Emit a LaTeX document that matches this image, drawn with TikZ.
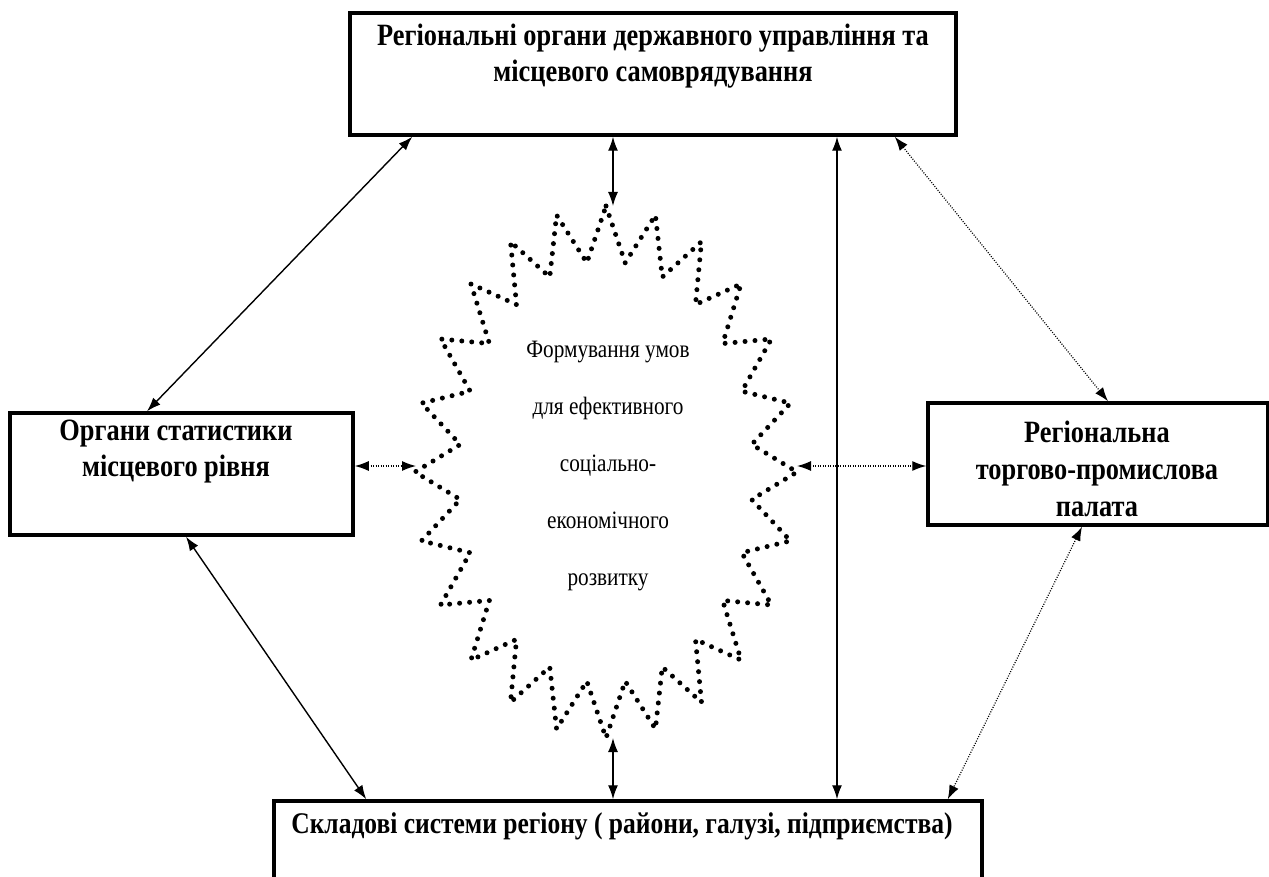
\documentclass[tikz,border=0pt]{standalone}
\usepackage{fontspec}
\setmainfont{Liberation Serif}[FakeStretch=0.85]
\usetikzlibrary{arrows.meta}

\tikzset{
  box/.style={draw, line width=3.5pt, inner sep=0pt},
  head/.style={font=\fontsize{31}{36}\selectfont\bfseries, align=center},
  mid/.style={font=\fontsize{25}{57}\selectfont, align=center},
  link/.style={<->, line width=1.4pt},
  dotlink/.style={<->, line width=1.2pt, dash pattern=on 1pt off 1.5pt},
  bigdots/.style={line width=5pt, line cap=round, dash pattern=on 0pt off 10pt}
}

\begin{document}
\begin{tikzpicture}[x=1pt, y=-1pt, >={Latex[length=14pt,width=10pt]}]
\useasboundingbox (0,0) rectangle (1269,877);

\node[box, minimum width=606pt, minimum height=122pt] (reg) at (653,74) {};
\node[box, minimum width=343pt, minimum height=122pt] (stat) at (181.5,474) {};
\node[box, minimum width=340pt, minimum height=122pt] (palata) at (1098,464) {};
\node[box, minimum width=708pt, minimum height=160pt] (parts) at (628,881) {};

\node[head] (regtxt) at (653,56) {Регіональні органи державного управління та\\місцевого самоврядування};
\node[head] (stattxt) at (176,452) {Органи статистики\\місцевого рівня};
\node[head, font=\fontsize{31}{37}\selectfont\bfseries] (palatatxt) at (1097,469) {Регіональна\\торгово-промислова\\палата};
\node[head, font=\fontsize{30}{36}\selectfont\bfseries] (partstxt) at (622,826) {Складові системи регіону ( райони, галузі, підприємства)};

% zigzag star
\draw[bigdots] (606,206) \foreach \k [evaluate=\k as \rx using {mod(\k,2)==1 ? 147 : 191},
    evaluate=\k as \ry using {mod(\k,2)==1 ? 211 : 266}] in {1,...,47}
    { -- ({606+\rx*sin(7.5*\k)}, {472-\ry*cos(7.5*\k)}) } -- cycle;
\coordinate (zN) at (613,206);
\coordinate (zS) at (613,738);
\coordinate (zW) at (416,466);
\coordinate (zE) at (797,466);

\node[mid] (goal) at (608,466) {Формування умов\\для ефективного\\соціально-\\економічного\\розвитку};

\draw[link] ([xshift=64pt]reg.south west) -- ([xshift=-34.5pt]stat.north);
\draw[link] ([xshift=-40pt]reg.south) -- (zN);
\draw[link] ([xshift=184pt]reg.south) -- ([xshift=184pt]reg.south |- parts.north);
\draw[dotlink] ([xshift=-63pt]reg.south east) -- ([xshift=10pt]palata.north);
\draw[dotlink] (stat.east |- zW) -- (zW);
\draw[dotlink] (zE) -- (zE -| palata.west);
\draw[link] ([xshift=4.5pt]stat.south) -- ([xshift=94pt]parts.north west);
\draw[link] (zS) -- (zS |- parts.north);
\draw[dotlink] ([xshift=-16pt]palata.south) -- ([xshift=-36pt]parts.north east);
\end{tikzpicture}
\end{document}
